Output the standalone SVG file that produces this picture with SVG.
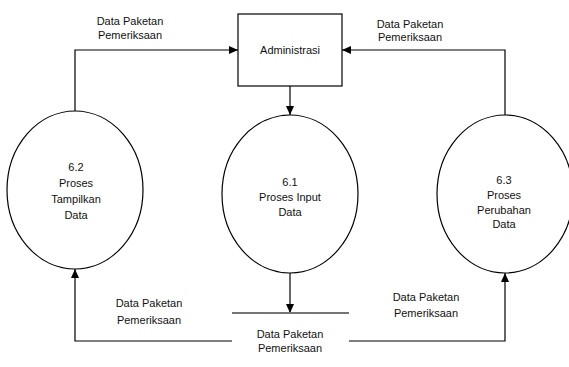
<svg xmlns="http://www.w3.org/2000/svg" width="569" height="367" viewBox="0 0 569 367">
  <style>
    .shape { fill: #ffffff; stroke: #000000; stroke-width: 1.2; }
    .flow { fill: none; stroke: #000000; stroke-width: 1.2; }
    .store { fill: none; stroke: #767676; stroke-width: 2; }
    text { font-family: "Liberation Sans", Arial, sans-serif; font-size: 11px; fill: #111111; text-anchor: middle; }
  </style>
  <defs>
    <marker id="arrow" markerWidth="10" markerHeight="10" refX="9" refY="5" orient="auto" markerUnits="userSpaceOnUse">
      <path d="M0,1 L9,5 L0,9 Z" fill="#000000"/>
    </marker>
  </defs>
  <rect width="569" height="367" fill="#ffffff"/>

  <!-- data flows and their labels -->
  <g id="connectors">
    <path class="flow" d="M75,111 V50 H238" marker-end="url(#arrow)"/>
    <path class="flow" d="M505,115 V50 H342" marker-end="url(#arrow)"/>
    <path class="flow" d="M290,86 V115" marker-end="url(#arrow)"/>
    <path class="flow" d="M290,273 V313" marker-end="url(#arrow)"/>
    <path class="flow" d="M232,341 H75 V269" marker-end="url(#arrow)"/>
    <path class="flow" d="M349,341 H505 V273" marker-end="url(#arrow)"/>
    <text x="130" y="25">Data Paketan</text>
    <text x="130" y="38.5">Pemeriksaan</text>
    <text x="410" y="27.5">Data Paketan</text>
    <text x="410" y="40.5">Pemeriksaan</text>
    <text x="149" y="307">Data Paketan</text>
    <text x="149" y="324">Pemeriksaan</text>
    <text x="426" y="301">Data Paketan</text>
    <text x="426" y="317">Pemeriksaan</text>
  </g>

  <g id="administrasi">
    <rect class="shape" x="238" y="14" width="104" height="72"/>
    <text x="290" y="54">Administrasi</text>
  </g>

  <g id="proses-6-2">
    <ellipse class="shape" cx="75" cy="190" rx="68" ry="79"/>
    <text x="76" y="171">6.2</text>
    <text x="76" y="187">Proses</text>
    <text x="76" y="203">Tampilkan</text>
    <text x="76" y="218.5">Data</text>
  </g>

  <g id="proses-6-1">
    <ellipse class="shape" cx="290" cy="194" rx="68" ry="79"/>
    <text x="290" y="186">6.1</text>
    <text x="290" y="201">Proses Input</text>
    <text x="290" y="216">Data</text>
  </g>

  <g id="proses-6-3">
    <ellipse class="shape" cx="505" cy="194" rx="68" ry="79"/>
    <text x="504" y="184">6.3</text>
    <text x="504" y="199">Proses</text>
    <text x="504" y="213.5">Perubahan</text>
    <text x="504" y="228">Data</text>
  </g>

  <!-- data store: open line with its name beneath -->
  <g id="data-store">
    <line class="store" x1="232" y1="313" x2="349" y2="313"/>
    <text x="290" y="338">Data Paketan</text>
    <text x="290" y="352">Pemeriksaan</text>
  </g>
</svg>
